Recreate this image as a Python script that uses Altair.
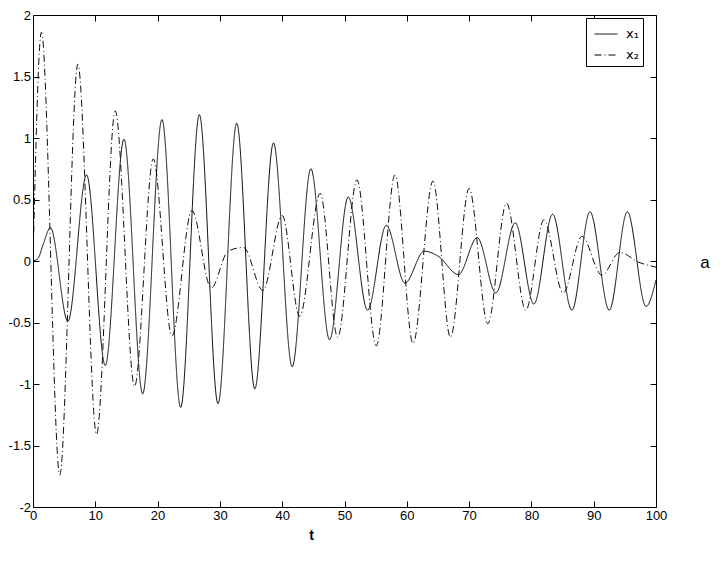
import altair as alt
import pandas as pd

# ---- data (extrema / shape points) ----
t_x1 = [0, 0.8, 1.6, 2.8, 5.6, 8.6, 11.6, 14.6, 17.6, 20.7, 23.7, 26.7, 29.7, 32.7, 35.6,
        38.6, 41.6, 44.6, 47.6, 50.6, 53.7, 56.7, 59.7, 62.8, 65.0, 68.3, 71.3,
        74.3, 77.4, 80.4, 83.4, 86.5, 89.4, 92.5, 95.4, 98.4, 100]
v_x1 = [0, 0.02, 0.13, 0.27, -0.49, 0.70, -0.85, 0.99, -1.08, 1.15, -1.19, 1.19, -1.16, 1.12, -1.04,
        0.96, -0.86, 0.75, -0.64, 0.52, -0.40, 0.29, -0.18, 0.08, 0.04, -0.11, 0.19,
        -0.26, 0.31, -0.35, 0.38, -0.40, 0.40, -0.40, 0.40, -0.37, -0.155]

t_x2 = [0, 1.35, 4.3, 7.2, 10.2, 13.2, 16.3, 19.3, 22.3, 25.5, 28.6, 31.3, 33.8,
        36.9, 40.0, 42.8, 46.1, 48.9, 52.0, 55.1, 58.1, 61.0, 64.2, 67.0, 70.0,
        73.0, 76.0, 79.1, 82.0, 85.1, 88.1, 91.3, 94.2, 97.2, 100]
v_x2 = [0, 1.86, -1.74, 1.60, -1.41, 1.22, -1.02, 0.83, -0.61, 0.41, -0.22, 0.08, 0.11,
        -0.24, 0.37, -0.45, 0.55, -0.62, 0.66, -0.69, 0.70, -0.67, 0.65, -0.62, 0.59,
        -0.51, 0.47, -0.40, 0.335, -0.26, 0.20, -0.115, 0.07, -0.01, -0.05]

series_names = ["x\u2081", "x\u2082"]
x_ticks = [0, 10, 20, 30, 40, 50, 60, 70, 80, 90, 100]
y_ticks = [-2, -1.5, -1, -0.5, 0, 0.5, 1, 1.5, 2]
side_label = ["a"]

df = pd.concat([
    pd.DataFrame({"t": t_x1, "v": v_x1, "s": series_names[0]}),
    pd.DataFrame({"t": t_x2, "v": v_x2, "s": series_names[1]}),
], ignore_index=True)

FONT = "Liberation Sans"
W, H = 623, 492

xs = alt.Scale(domain=[0, 100], nice=False, zero=False)
ys = alt.Scale(domain=[-2, 2], nice=False, zero=False)

lines = alt.Chart(df).mark_line(
    interpolate="monotone", color="black", strokeWidth=0.95, clip=True
).encode(
    x=alt.X("t:Q", scale=xs, axis=alt.Axis(
        orient="bottom", values=x_ticks, offset=-6, tickSize=6, domain=False, grid=False,
        labelFont=FONT, labelFontSize=13, labelPadding=2, labelFlush=False,
        title="t", titleFont=FONT, titleFontSize=14, titleFontWeight="bold",
        titleX=278, titleY=38, titleBaseline="alphabetic", titleAlign="center")),
    y=alt.Y("v:Q", scale=ys, axis=alt.Axis(
        orient="left", values=y_ticks, offset=-6, tickSize=6, domain=False,
        labelExpr="replace(format(datum.value, '~g'), '\u2212', '-')",
        grid=False, labelFont=FONT, labelFontSize=13, labelPadding=2.5, title=None)),
    strokeDash=alt.StrokeDash("s:N", scale=alt.Scale(domain=series_names,
                                                      range=[[1, 0], [7, 3, 1, 3]]),
                              legend=alt.Legend(
                                  title=None, orient="none", legendX=553, legendY=3,
                                  padding=4, symbolType="stroke", symbolSize=529,
                                  symbolStrokeWidth=1, symbolOffset=4, labelOffset=8,
                                  labelFont="DejaVu Sans", labelFontSize=13, rowPadding=2,
                                  strokeColor="black", fillColor="white", cornerRadius=0)),
)

frame_axes = alt.Chart(df).mark_line(opacity=0).encode(
    x=alt.X("t:Q", scale=xs, axis=alt.Axis(
        orient="top", values=x_ticks, offset=-6, tickSize=6, domain=False, grid=False,
        labels=False, title=None)),
    y=alt.Y("v:Q", scale=ys, axis=alt.Axis(
        orient="right", values=y_ticks, offset=-6, tickSize=6, domain=False, grid=False,
        labels=False, title=None)),
)

label_a = alt.Chart(pd.DataFrame({"txt": side_label})).mark_text(
    font=FONT, fontSize=17, align="center", baseline="middle", color="black"
).encode(text="txt:N", x=alt.value(672), y=alt.value(248))

chart = alt.layer(lines, frame_axes, label_a).resolve_axis(
    x="independent", y="independent"
).properties(
    width=W, height=H, autosize=alt.AutoSizeParams(type="none"),
    padding={"left": 25, "top": 7, "right": 60, "bottom": 55},
).configure_view(stroke="black", strokeWidth=1).configure_axis(
    tickColor="black", labelColor="black", tickWidth=1, titleColor="black"
)

chart.save("out.html", embed_options={"renderer": "svg", "actions": False})
